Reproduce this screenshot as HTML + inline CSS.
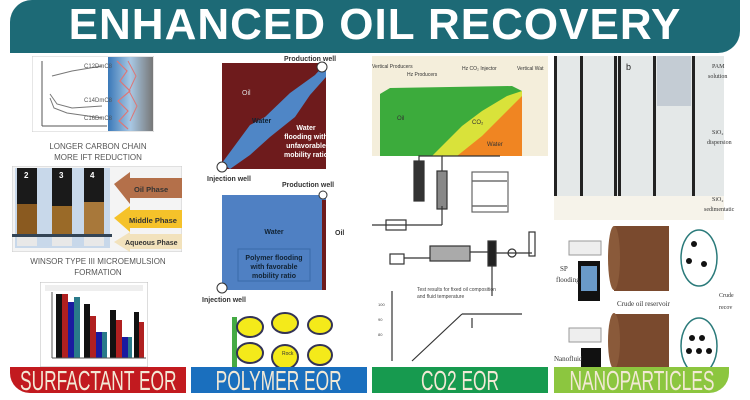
<!DOCTYPE html>
<html><head><meta charset="utf-8"><style>
body{margin:0;width:750px;height:400px;background:#fff;position:relative;overflow:hidden;font-family:"Liberation Sans",sans-serif}
.a{position:absolute}
.hdr{left:10px;top:0;width:730px;height:53px;background:#1d6a76;border-radius:22px 0 22px 0;color:#fff;font-weight:bold;font-size:44px;text-align:center;line-height:50px;letter-spacing:1px}
.lab{top:367px;height:26px;color:#f3e9d6;font-size:28px;line-height:27px;white-space:nowrap;overflow:hidden;display:flex;justify-content:center}
.lab span{display:block;flex-shrink:0;transform:scaleX(0.62);transform-origin:center}
.cap{font-size:8px;color:#555;text-align:center}
</style></head><body>
<div class="a hdr">ENHANCED OIL RECOVERY</div>

<!-- column 1 -->
<svg class="a" style="left:32px;top:56px" width="122" height="76">
<rect x="0" y="0" width="122" height="76" fill="#fff" stroke="#ccc"/>
<defs><linearGradient id="g1" x1="0" x2="1"><stop offset="0" stop-color="#3a78b8"/><stop offset=".5" stop-color="#a8c8e4"/><stop offset="1" stop-color="#777"/></linearGradient></defs>
<rect x="76" y="1" width="45" height="74" fill="url(#g1)"/>
<polyline points="85,5 95,15 88,25 98,35 86,45 96,55 87,65 96,73" fill="none" stroke="#d77" stroke-width="1.2"/>
<polyline points="96,5 104,20 97,35 105,50 98,65" fill="none" stroke="#d77"/>
<line x1="10" y1="5" x2="10" y2="70" stroke="#555"/><line x1="10" y1="70" x2="75" y2="70" stroke="#555"/>
<polyline points="20,20 40,15 70,10" fill="none" stroke="#777"/>
<polyline points="18,38 25,48 40,52 70,50" fill="none" stroke="#777"/>
<polyline points="18,42 22,52 35,57 70,62" fill="none" stroke="#777"/>
<text x="52" y="12" font-size="6" fill="#555">C12DmC8</text>
<text x="52" y="46" font-size="6" fill="#555">C14DmC8</text>
<text x="52" y="64" font-size="6" fill="#555">C16DmC8</text>
</svg>
<div class="a cap" style="left:10px;top:141px;width:176px;line-height:11px">LONGER CARBON CHAIN<br>MORE IFT REDUCTION</div>
<svg class="a" style="left:12px;top:166px" width="170" height="86">
<rect width="170" height="86" fill="#f4f4f4" stroke="#ccc"/>
<rect x="3" y="2" width="95" height="80" fill="#c8d8ea"/>
<g><rect x="5" y="2" width="20" height="78" fill="#1a1a1a"/><rect x="5" y="38" width="20" height="30" fill="#8a5a20"/><rect x="5" y="68" width="20" height="12" fill="#e8e8e8"/></g>
<g><rect x="40" y="2" width="20" height="78" fill="#1a1a1a"/><rect x="40" y="40" width="20" height="28" fill="#9a6a28"/><rect x="40" y="68" width="20" height="12" fill="#e8e8e8"/></g>
<g><rect x="72" y="2" width="20" height="78" fill="#1a1a1a"/><rect x="72" y="36" width="20" height="32" fill="#a8783a"/><rect x="72" y="68" width="20" height="12" fill="#e8e8e8"/></g>
<rect x="0" y="68" width="100" height="3" fill="#345"/>
<text x="12" y="12" font-size="8" fill="#fff" font-weight="bold">2</text><text x="47" y="12" font-size="8" fill="#fff" font-weight="bold">3</text><text x="78" y="12" font-size="8" fill="#fff" font-weight="bold">4</text>
<polygon points="102,18 118,6 118,12 170,12 170,32 118,32 118,38" fill="#b4704a"/>
<polygon points="102,52 118,40 118,44 170,44 170,62 118,62 118,66" fill="#f5c22a"/>
<polygon points="102,76 118,66 118,68 170,68 170,83 118,83 118,86" fill="#f2e2bc"/>
<text x="122" y="26" font-size="7.5" font-weight="bold" fill="#333">Oil Phase</text>
<text x="117" y="57" font-size="7.5" font-weight="bold" fill="#333">Middle Phase</text>
<text x="113" y="79" font-size="7" font-weight="bold" fill="#333">Aqueous Phase</text>
</svg>
<div class="a cap" style="left:10px;top:256px;width:176px;line-height:11px">WINSOR TYPE III MICROEMULSION<br>FORMATION</div>
<svg class="a" style="left:40px;top:282px" width="108" height="85">
<rect width="108" height="85" fill="#fff" stroke="#bbb"/>
<rect x="5" y="3" width="98" height="6" fill="#eee"/>
<rect x="16" y="12" width="6" height="64" fill="#111"/><rect x="22" y="12" width="6" height="64" fill="#b02020"/><rect x="28" y="20" width="6" height="56" fill="#1a1aa0"/><rect x="34" y="15" width="6" height="61" fill="#2a7a8a"/>
<rect x="44" y="22" width="6" height="54" fill="#111"/><rect x="50" y="34" width="6" height="42" fill="#b02020"/><rect x="56" y="50" width="6" height="26" fill="#1a1aa0"/><rect x="62" y="50" width="5" height="26" fill="#2a7a8a"/>
<rect x="70" y="28" width="6" height="48" fill="#111"/><rect x="76" y="38" width="6" height="38" fill="#b02020"/><rect x="82" y="55" width="6" height="21" fill="#1a1aa0"/><rect x="88" y="55" width="4" height="21" fill="#2a7a8a"/>
<rect x="94" y="30" width="5" height="46" fill="#111"/><rect x="99" y="40" width="5" height="36" fill="#b02020"/>
<line x1="12" y1="10" x2="12" y2="76" stroke="#555"/><line x1="12" y1="76" x2="106" y2="76" stroke="#555"/>
</svg>

<!-- column 2 -->
<svg class="a" style="left:190px;top:55px" width="180" height="312">
<rect x="32" y="8" width="104" height="106" fill="#6e1b1c"/>
<polygon points="32,108 60,70 75,62 100,38 125,20 136,8 136,22 120,40 105,62 80,82 60,100 40,114" fill="#4f86c6"/>
<circle cx="132" cy="12" r="5" fill="#fff" stroke="#333"/><circle cx="32" cy="112" r="5" fill="#fff" stroke="#333"/>
<text x="94" y="6" font-size="7" font-weight="bold" fill="#333">Production well</text>
<text x="52" y="40" font-size="7" fill="#ddd">Oil</text>
<text x="62" y="68" font-size="7" font-weight="bold" fill="#123">Water</text>
<text x="116" y="75" font-size="7" font-weight="bold" fill="#fff" text-anchor="middle">Water</text>
<text x="116" y="84" font-size="7" font-weight="bold" fill="#fff" text-anchor="middle">flooding with</text>
<text x="116" y="93" font-size="7" font-weight="bold" fill="#fff" text-anchor="middle">unfavorable</text>
<text x="116" y="102" font-size="7" font-weight="bold" fill="#fff" text-anchor="middle">mobility ratio</text>
<text x="17" y="126" font-size="7" font-weight="bold" fill="#333">Injection well</text>
<text x="92" y="132" font-size="7" font-weight="bold" fill="#333">Production well</text>
<rect x="32" y="140" width="104" height="95" fill="#4f80c3"/>
<rect x="132" y="145" width="4" height="90" fill="#6e1b1c"/>
<circle cx="133" cy="140" r="4" fill="#fff" stroke="#333"/><circle cx="32" cy="233" r="5" fill="#fff" stroke="#333"/>
<text x="84" y="179" font-size="7" font-weight="bold" fill="#123" text-anchor="middle">Water</text>
<text x="145" y="180" font-size="7" font-weight="bold" fill="#333">Oil</text>
<rect x="48" y="194" width="72" height="32" fill="none" stroke="#3a6aa8"/>
<text x="84" y="205" font-size="7" font-weight="bold" fill="#123" text-anchor="middle">Polymer flooding</text>
<text x="84" y="214" font-size="7" font-weight="bold" fill="#123" text-anchor="middle">with favorable</text>
<text x="84" y="223" font-size="7" font-weight="bold" fill="#123" text-anchor="middle">mobility ratio</text>
<text x="12" y="247" font-size="7" font-weight="bold" fill="#333">Injection well</text>
<rect x="42" y="262" width="5" height="50" fill="#4a4"/>
<g fill="#f4ea1a" stroke="#335" stroke-width="2">
<ellipse cx="60" cy="272" rx="13" ry="10"/><ellipse cx="95" cy="268" rx="13" ry="10"/><ellipse cx="130" cy="270" rx="12" ry="9"/>
<ellipse cx="60" cy="298" rx="13" ry="10"/><ellipse cx="95" cy="302" rx="13" ry="12"/><ellipse cx="130" cy="300" rx="12" ry="10"/></g>
<text x="92" y="300" font-size="5" fill="#333">Rock</text>
</svg>

<!-- column 3 -->
<svg class="a" style="left:372px;top:56px" width="176" height="311">
<rect x="0" y="0" width="176" height="100" fill="#f4eedb"/>
<polygon points="8,38 18,32 140,30 150,35 150,100 8,100" fill="#3cab3c"/>
<polygon points="60,100 90,70 110,55 135,40 150,35 150,100" fill="#d9e23a"/>
<polygon points="85,100 110,80 130,60 145,45 150,40 150,100" fill="#f08522"/>
<text x="100" y="68" font-size="6" fill="#333">CO₂</text><text x="25" y="64" font-size="6" fill="#333">Oil</text><text x="115" y="90" font-size="6" fill="#333">Water</text>
<text x="0" y="12" font-size="5" fill="#333">Vertical Producers</text><text x="35" y="20" font-size="5" fill="#333">Hz Producers</text><text x="90" y="14" font-size="5" fill="#333">Hz CO₂ Injector</text><text x="145" y="14" font-size="5" fill="#333">Vertical Wat</text>
<g fill="none" stroke="#333" stroke-width="1.2">
<rect x="42" y="105" width="10" height="40" fill="#333"/><rect x="65" y="115" width="10" height="38" fill="#888"/>
<polyline points="47,105 47,100 70,100 70,115"/><path d="M70,100 H128"/>
<line x1="100" y1="125" x2="135" y2="125" stroke="#555"/><line x1="100" y1="150" x2="135" y2="150" stroke="#555"/>
<rect x="100" y="116" width="36" height="40" stroke="#666"/>
<rect x="14" y="164" width="20" height="10"/><line x1="0" y1="169" x2="50" y2="169"/><line x1="50" y1="169" x2="70" y2="169"/><line x1="70" y1="169" x2="70" y2="150"/>
<rect x="58" y="190" width="40" height="15" fill="#aaa"/><rect x="18" y="198" width="14" height="10"/>
<line x1="32" y1="202" x2="58" y2="202"/><line x1="98" y1="196" x2="120" y2="196"/><line x1="120" y1="196" x2="120" y2="240"/>
<rect x="116" y="185" width="8" height="25" fill="#222"/><circle cx="140" cy="197" r="4"/><line x1="124" y1="197" x2="160" y2="197"/><rect x="157" y="176" width="6" height="24"/>
<line x1="20" y1="235" x2="20" y2="305"/><line x1="40" y1="305" x2="90" y2="258"/><line x1="90" y1="258" x2="150" y2="258"/><line x1="100" y1="262" x2="100" y2="272"/>
</g>
<text x="45" y="235" font-size="5" fill="#444">Test results for fixed oil composition</text>
<text x="45" y="242" font-size="5" fill="#444">and fluid temperature</text>
<text x="6" y="250" font-size="4" fill="#444">100</text><text x="6" y="265" font-size="4" fill="#444">90</text><text x="6" y="280" font-size="4" fill="#444">80</text>
</svg>

<!-- column 4 -->
<svg class="a" style="left:554px;top:56px" width="185" height="311">
<rect x="0" y="0" width="170" height="164" fill="#e4e8e8"/>
<rect x="0" y="0" width="3" height="164" fill="#222"/><rect x="26" y="0" width="3" height="160" fill="#222"/>
<rect x="60" y="0" width="3" height="160" fill="#222"/><rect x="64" y="0" width="3" height="160" fill="#222"/>
<rect x="99" y="0" width="3" height="160" fill="#222"/><rect x="138" y="0" width="3" height="160" fill="#222"/>
<rect x="103" y="0" width="34" height="50" fill="#c4ccd4"/>
<rect x="0" y="140" width="170" height="24" fill="#f6f3ea"/>
<text x="72" y="14" font-size="9" fill="#222">b</text>
<text x="158" y="12" font-size="6" fill="#333" font-family="Liberation Serif">PAM</text><text x="154" y="22" font-size="6" fill="#333" font-family="Liberation Serif">solution</text>
<text x="158" y="78" font-size="6" fill="#333" font-family="Liberation Serif">SiO₂</text><text x="153" y="88" font-size="6" fill="#333" font-family="Liberation Serif">dispersion</text>
<text x="158" y="145" font-size="6" fill="#333" font-family="Liberation Serif">SiO₂</text><text x="150" y="155" font-size="6" fill="#333" font-family="Liberation Serif">sedimentatic</text>
<rect x="60" y="170" width="55" height="65" fill="#7a4a2e"/><ellipse cx="60" cy="202" rx="6" ry="32" fill="#8a5a3a"/>
<rect x="60" y="258" width="55" height="53" fill="#7a4a2e"/><ellipse cx="60" cy="285" rx="6" ry="28" fill="#8a5a3a"/>
<ellipse cx="145" cy="202" rx="18" ry="28" fill="#fff" stroke="#2a7a7a" stroke-width="1.5"/>
<ellipse cx="145" cy="290" rx="18" ry="28" fill="#fff" stroke="#2a7a7a" stroke-width="1.5"/>
<g fill="#111"><circle cx="140" cy="188" r="3"/><circle cx="135" cy="205" r="3"/><circle cx="150" cy="208" r="3"/>
<circle cx="138" cy="282" r="3"/><circle cx="148" cy="282" r="3"/><circle cx="135" cy="295" r="3"/><circle cx="145" cy="295" r="3"/><circle cx="155" cy="295" r="3"/></g>
<rect x="15" y="185" width="32" height="14" fill="#eee" stroke="#999"/><rect x="24" y="205" width="22" height="40" fill="#111"/><rect x="27" y="210" width="16" height="25" fill="#6a9ac8"/>
<rect x="15" y="272" width="32" height="14" fill="#eee" stroke="#999"/><rect x="27" y="292" width="20" height="19" fill="#111"/>
<text x="6" y="215" font-size="7" fill="#333" font-family="Liberation Serif">SP</text><text x="2" y="226" font-size="7" fill="#333" font-family="Liberation Serif">flooding</text>
<text x="63" y="250" font-size="7" fill="#333" font-family="Liberation Serif">Crude oil reservoir</text>
<text x="165" y="241" font-size="6" fill="#333" font-family="Liberation Serif">Crude</text><text x="165" y="253" font-size="6" fill="#333" font-family="Liberation Serif">recov</text>
<text x="0" y="305" font-size="7" fill="#333" font-family="Liberation Serif">Nanofluid</text>
</svg>

<!-- labels -->
<div class="a lab" style="left:10px;width:176px;background:#c21a1f;border-radius:0 0 0 20px"><span>SURFACTANT EOR</span></div>
<div class="a lab" style="left:191px;width:176px;background:#1a6fbe"><span>POLYMER EOR</span></div>
<div class="a lab" style="left:372px;width:176px;background:#179a4f"><span>CO2 EOR</span></div>
<div class="a lab" style="left:554px;width:175px;background:#8cc63f;border-radius:0 0 20px 0"><span>NANOPARTICLES</span></div>
</body></html>
